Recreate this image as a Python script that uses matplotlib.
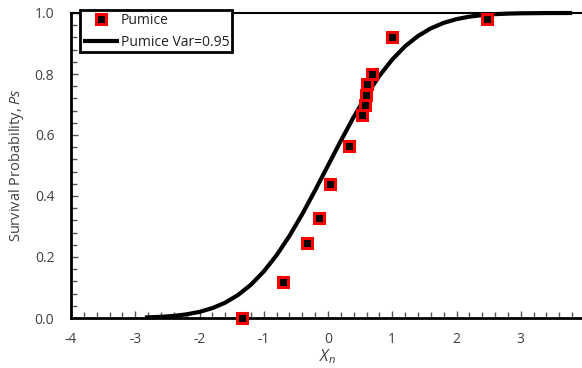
import matplotlib
matplotlib.use("Agg")
import matplotlib.pyplot as plt
from matplotlib.ticker import MultipleLocator, FixedLocator

plt.rcParams['font.family'] = ['Open Sans', 'DejaVu Sans']
plt.rcParams['axes.unicode_minus'] = False
plt.rcParams['mathtext.fontset'] = 'custom'
plt.rcParams['mathtext.rm'] = 'Open Sans'
plt.rcParams['mathtext.it'] = 'Open Sans:italic'

# Measured survival data (Pumice)
xn_data = [-1.34, -0.705, -0.33, -0.14, 0.03, 0.33, 0.53, 0.58, 0.59, 0.61, 0.68, 0.99, 2.48]
ps_data = [0.00, 0.117, 0.247, 0.329, 0.438, 0.565, 0.666, 0.700, 0.731, 0.766, 0.799, 0.920, 0.980]

# Model curve "Pumice Var=0.95"
xn_curve = [-2.85, -2.6, -2.4, -2.2, -2.0, -1.8, -1.6, -1.4, -1.2, -1.0, -0.8, -0.6, -0.4,
            -0.2, 0.0, 0.2, 0.4, 0.6, 0.8, 1.0, 1.2, 1.4, 1.6, 1.8, 2.0, 2.2, 2.4, 2.6,
            2.8, 3.0, 3.4, 3.8]
ps_curve = [0.0017, 0.0038, 0.0069, 0.0120, 0.0201, 0.0324, 0.0503, 0.0755, 0.1091, 0.1525,
            0.2059, 0.2690, 0.3409, 0.4188, 0.5000, 0.5812, 0.6591, 0.7310, 0.7941, 0.8475,
            0.8909, 0.9245, 0.9497, 0.9676, 0.9799, 0.9880, 0.9931, 0.9962, 0.9980, 0.9990,
            0.9998, 1.0000]

x_ticks = [-4, -3, -2, -1, 0, 1, 2, 3]

fig = plt.figure(figsize=(5.82, 3.68), dpi=100)
ax = fig.add_axes([71/582, 50/368, 514/582, 305/368])

ax.plot(xn_curve, ps_curve, color='black', lw=3, label='Pumice Var=0.95', zorder=2,
        solid_capstyle='butt', clip_on=False)
ax.plot(xn_data, ps_data, linestyle='none', marker='s', markersize=7.5,
        markerfacecolor='black', markeredgecolor='#ff0000', markeredgewidth=2.2,
        label='Pumice', zorder=3, clip_on=False)

ax.set_xlim(-4, 4)
ax.set_ylim(0, 1.0)
ax.xaxis.set_major_locator(FixedLocator(x_ticks))
ax.xaxis.set_minor_locator(MultipleLocator(0.2))
ax.yaxis.set_major_locator(MultipleLocator(0.2))
ax.yaxis.set_minor_locator(MultipleLocator(0.04))
ax.yaxis.set_major_formatter(matplotlib.ticker.FormatStrFormatter('%.1f'))

tc = '#404040'
ax.tick_params(axis='both', which='both', direction='in', color='#555555', labelcolor=tc,
               labelsize=10)
ax.tick_params(axis='both', which='major', length=5, width=1)
ax.tick_params(axis='both', which='minor', length=4, width=1)
ax.tick_params(axis='x', which='major', pad=10)
ax.tick_params(axis='y', which='major', pad=12)

for s in ['left', 'bottom']:
    ax.spines[s].set_linewidth(2)
ax.spines['top'].set_linewidth(1.5)
ax.spines['right'].set_visible(False)

ax.set_xlabel(r'$X_n$', color=tc, fontsize=11.5, labelpad=0.5)
ax.set_ylabel(r'Survival Probability, $Ps$', color=tc, fontsize=10.5, labelpad=6)

handles, labels = ax.get_legend_handles_labels()
leg = ax.legend(handles[::-1], labels[::-1], loc='upper left', bbox_to_anchor=(0.018, 1.01),
                frameon=True, fancybox=False, edgecolor='black', framealpha=1, fontsize=10,
                handlelength=2.6, handletextpad=0.1, borderpad=0.2, labelspacing=0.5,
                borderaxespad=0)
leg.get_frame().set_linewidth(2)
for t in leg.get_texts():
    t.set_color('#202020')

fig.savefig('out.png', dpi=100)
